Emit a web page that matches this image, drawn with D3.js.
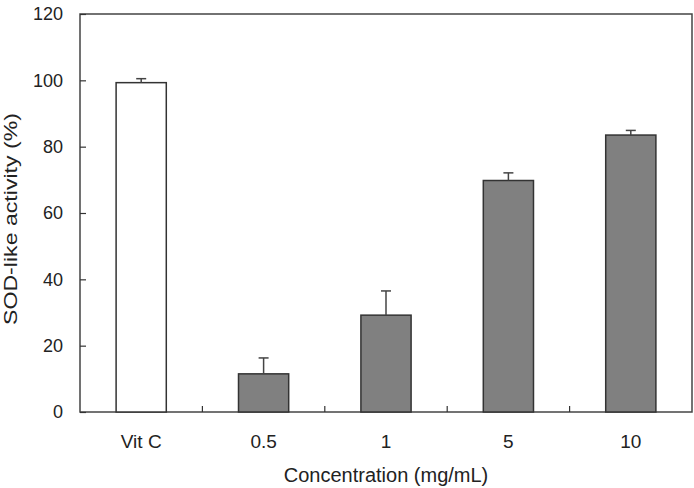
<!DOCTYPE html>
<html>
<head>
<meta charset="utf-8">
<script src="https://cdn.jsdelivr.net/npm/d3@7"></script>
<style>
	body { margin: 0; background: #fff; }
	svg { display: block; font-family: "Liberation Sans", Arial, sans-serif; }
	.axis path, .axis line { stroke: #333; }
	.axis text { fill: #222; }
</style>
</head>
<body>
<svg id="chart" width="694" height="488"></svg>
<script>
// values
let categories	= ['Vit C', '0.5', '1', '5', '10'];
let values		= [99.3, 11.5, 29.2, 69.8, 83.5];
let errors		= [1.2, 4.8, 7.3, 2.3, 1.4];
let fills		= ['#ffffff', '#808080', '#808080', '#808080', '#808080'];
let yTicks		= [0, 20, 40, 60, 80, 100, 120];

let svg		= d3.select('#chart');
let plotL	= 80, plotR = 692, plotT = 14, plotB = 412;

let x	= d3.scaleBand().domain(categories).range([plotL, plotR]).padding(0);
let y	= d3.scaleLinear().domain([0, 120]).range([plotB, plotT]);

let barW	= x.bandwidth() * 0.41;

// frame
svg.append('rect').attr('x', plotL).attr('y', plotT).attr('width', plotR - plotL).attr('height', plotB - plotT)
	.style('fill', 'none').style('stroke', '#444').style('stroke-width', 1.5);

// y axis, ticks pointing inward
let yAxis	= svg.append('g').attr('class', 'axis').attr('transform', 'translate(' + plotL + ',0)')
	.call(d3.axisLeft(y).tickValues(yTicks).tickSize(-6).tickPadding(17));
yAxis.select('.domain').remove();
yAxis.selectAll('line').style('stroke-width', 1.2);
yAxis.selectAll('text').style('font-size', '18px');

// x axis labels
let xAxis	= svg.append('g').attr('class', 'axis').attr('transform', 'translate(0,' + plotB + ')')
	.call(d3.axisBottom(x).tickSize(0).tickPadding(23));
xAxis.select('.domain').remove();
xAxis.selectAll('text').style('font-size', '19px');

// separator ticks between categories
svg.append('g').selectAll('line').data(categories.slice(1)).join('line')
	.attr('x1', (d) => x(d)).attr('x2', (d) => x(d))
	.attr('y1', plotB).attr('y2', plotB - 6)
	.style('stroke', '#333').style('stroke-width', 1.2);

// bars
let bars	= svg.append('g').selectAll('g').data(categories).join('g');

bars.append('rect')
	.attr('x', (d) => x(d) + (x.bandwidth() - barW) / 2)
	.attr('y', (d, i) => y(values[i]))
	.attr('width', barW)
	.attr('height', (d, i) => plotB - y(values[i]))
	.style('fill', (d, i) => fills[i])
	.style('stroke', '#333').style('stroke-width', 1.5);

// error bars, upward only
bars.append('line')
	.attr('x1', (d) => x(d) + x.bandwidth() / 2).attr('x2', (d) => x(d) + x.bandwidth() / 2)
	.attr('y1', (d, i) => y(values[i])).attr('y2', (d, i) => y(values[i] + errors[i]))
	.style('stroke', '#444').style('stroke-width', 1.5);
bars.append('line')
	.attr('x1', (d) => x(d) + x.bandwidth() / 2 - 5).attr('x2', (d) => x(d) + x.bandwidth() / 2 + 5)
	.attr('y1', (d, i) => y(values[i] + errors[i])).attr('y2', (d, i) => y(values[i] + errors[i]))
	.style('stroke', '#444').style('stroke-width', 1.5);

// axis titles
svg.append('text').attr('x', (plotL + plotR) / 2).attr('y', 482).attr('text-anchor', 'middle')
	.style('font-size', '20px').style('fill', '#222').text('Concentration (mg/mL)');

svg.append('text').attr('transform', 'translate(17,' + ((plotT + plotB) / 2 + 6) + ') rotate(-90)')
	.attr('text-anchor', 'middle').attr('textLength', 212).attr('lengthAdjust', 'spacingAndGlyphs')
	.style('font-size', '19px').style('fill', '#222').text('SOD-like activity (%)');
</script>
</body>
</html>
